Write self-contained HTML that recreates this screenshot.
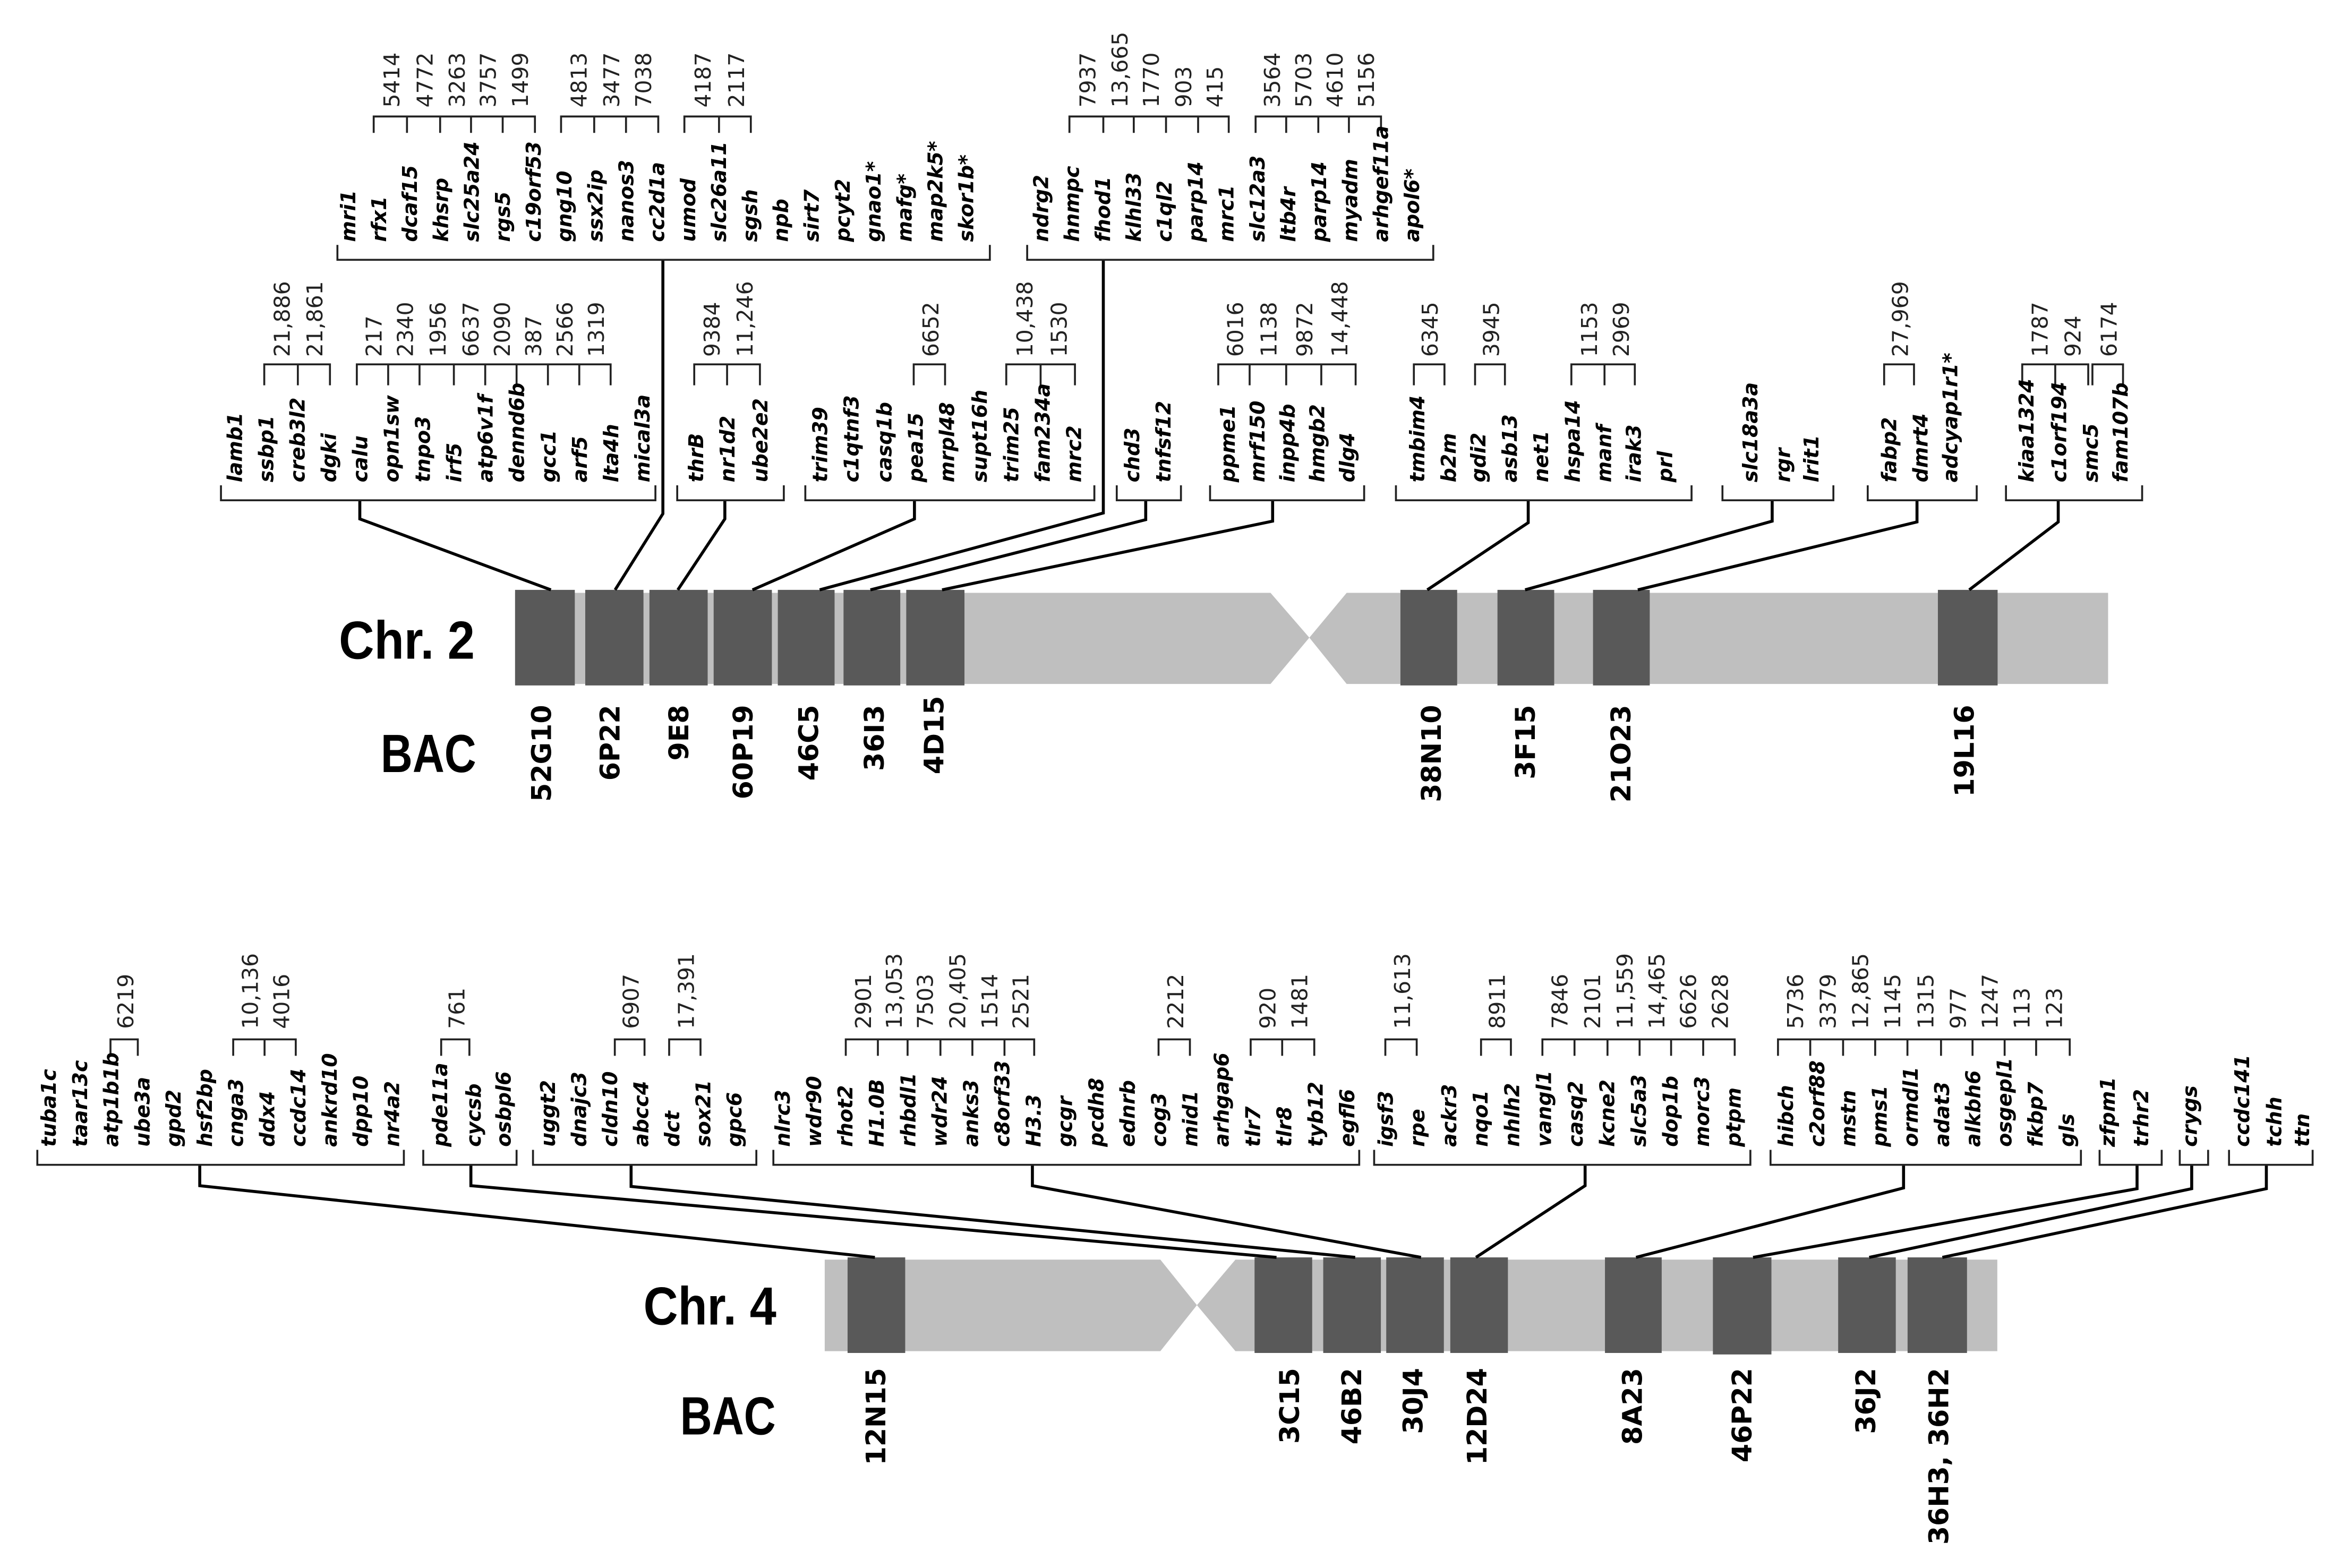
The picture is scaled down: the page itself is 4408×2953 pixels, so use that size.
<!DOCTYPE html>
<html><head><meta charset="utf-8">
<style>
html,body{margin:0;padding:0;background:#fff;}
svg{display:block;}
.g{font-family:"DejaVu Sans","Liberation Sans",sans-serif;font-style:italic;font-weight:bold;font-size:13.5px;fill:#000;}
.n{font-family:"DejaVu Sans","Liberation Sans",sans-serif;font-size:14.5px;fill:#222;}
.b{font-family:"DejaVu Sans","Liberation Sans",sans-serif;font-weight:bold;font-size:18px;fill:#000;text-anchor:end;}
.t{font-family:"Liberation Sans",sans-serif;font-weight:bold;font-size:36px;fill:#000;}
.br{fill:none;stroke:#222;stroke-width:1.3;}
.c{fill:none;stroke:#000;stroke-width:2;}
</style></head>
<body>
<svg width="4408" height="2953" viewBox="0 0 1568 1050" preserveAspectRatio="none">
<!-- ===== CHR 2 ===== -->
<path d="M345,397 H851 L877,427 L851,458 H345 Z M902,397 H1412 V458 H902 L877,427 Z" fill="#bfbfbf"/>
<g fill="#595959">
<rect x="345" y="395" width="40" height="64"/><rect x="392" y="395" width="39" height="64"/>
<rect x="435" y="395" width="39" height="64"/><rect x="478" y="395" width="39" height="64"/>
<rect x="521" y="395" width="38" height="64"/><rect x="565" y="395" width="38" height="64"/>
<rect x="607" y="395" width="39" height="64"/><rect x="938" y="395" width="38" height="64"/>
<rect x="1003" y="395" width="38" height="64"/><rect x="1067" y="395" width="38" height="64"/>
<rect x="1298" y="395" width="40" height="64"/>
</g>
<text class="t" x="227" y="441" textLength="91" lengthAdjust="spacingAndGlyphs">Chr. 2</text>
<text class="t" x="255" y="517" textLength="64" lengthAdjust="spacingAndGlyphs">BAC</text>
<text class="b" transform="translate(369,472) rotate(-90)">52G10</text>
<text class="b" transform="translate(415,472) rotate(-90)">6P22</text>
<text class="b" transform="translate(461,472) rotate(-90)">9E8</text>
<text class="b" transform="translate(504,472) rotate(-90)">60P19</text>
<text class="b" transform="translate(548,472) rotate(-90)">46C5</text>
<text class="b" transform="translate(592,472) rotate(-90)">36I3</text>
<text class="b" transform="translate(632,466) rotate(-90)">4D15</text>
<text class="b" transform="translate(965,472) rotate(-90)">38N10</text>
<text class="b" transform="translate(1028,472) rotate(-90)">3F15</text>
<text class="b" transform="translate(1092,472) rotate(-90)">21O23</text>
<text class="b" transform="translate(1322,472) rotate(-90)">19L16</text>

<path class="c" d="M241,335 V347.5 L369,395"/>
<path class="c" d="M444,174 V344 L412,395"/>
<path class="c" d="M485.5,335 V347.5 L454,395"/>
<path class="c" d="M612.5,335 V347.5 L504,395"/>
<path class="c" d="M739,174 V343.5 L549,395"/>
<path class="c" d="M767.4,335 V348 L583,395"/>
<path class="c" d="M852.4,335 V349 L631,395"/>
<path class="c" d="M1023.6,335 V350 L956,395"/>
<path class="c" d="M1187,335 V349 L1021.5,395"/>
<path class="c" d="M1284,335 V349.5 L1097,395"/>
<path class="c" d="M1378.6,335 V349.5 L1319,395"/>

<g class="br">
<path d="M148,325 V335 H439 V325"/>
<path d="M453.6,325 V335 H525 V325"/>
<path d="M539.4,325 V335 H733 V325"/>
<path d="M748,325 V335 H791 V325"/>
<path d="M810.5,325 V335 H913.7 V325"/>
<path d="M935,325 V335 H1133 V325"/>
<path d="M1153.7,325 V335 H1228 V325"/>
<path d="M1251,325 V335 H1324 V325"/>
<path d="M1343.6,325 V335 H1434.8 V325"/>
<path d="M177,258 V244 H199.5 V258 M199.5,244 H221 V258"/>
<path d="M239,258 V244 H409 V258 M260,244 V258 M281,244 V258 M304,244 V258 M325,244 V258 M346,244 V258 M367,244 V258 M388,244 V258"/>
<path d="M465,258 V244 H509 V258 M487,244 V258"/>
<path d="M612,258 V244 H633 V258"/>
<path d="M674,258 V244 H720 V258 M697,244 V258"/>
<path d="M816,258 V244 H908 V258 M837,244 V258 M861.5,244 V258 M885,244 V258"/>
<path d="M947,258 V244 H967.5 V258"/>
<path d="M988,258 V244 H1008 V258"/>
<path d="M1052.5,258 V244 H1095 V258 M1074.7,244 V258"/>
<path d="M1262,258 V244 H1282 V258"/>
<path d="M1354.5,258 V244 H1398.7 V258 M1376.6,244 V258 M1401.5,258 V244 H1422 V258"/>
<path d="M226,164 V174 H663 V164"/>
<path d="M688,164 V174 H960 V164"/>
<path d="M250.3,89 V78 H358.3 V89 M272.6,78 V89 M294.8,78 V89 M315.5,78 V89 M336.7,78 V89"/>
<path d="M375.8,89 V78 H440.9 V89 M398,78 V89 M419.3,78 V89"/>
<path d="M458.4,89 V78 H502.9 V89 M481.6,78 V89"/>
<path d="M716.3,89 V78 H823 V89 M739,78 V89 M759.4,78 V89 M781,78 V89 M802.5,78 V89"/>
<path d="M841,89 V78 H925 V89 M861.5,78 V89 M883,78 V89 M903.5,78 V89"/>
</g>

<g class="g">
<text transform="translate(162,323) rotate(-90)">lamb1</text>
<text transform="translate(183,323) rotate(-90)">ssbp1</text>
<text transform="translate(204,323) rotate(-90)">creb3l2</text>
<text transform="translate(225,323) rotate(-90)">dgki</text>
<text transform="translate(246,323) rotate(-90)">calu</text>
<text transform="translate(267,323) rotate(-90)">opn1sw</text>
<text transform="translate(288,323) rotate(-90)">tnpo3</text>
<text transform="translate(309,323) rotate(-90)">irf5</text>
<text transform="translate(330,323) rotate(-90)">atp6v1f</text>
<text transform="translate(351,323) rotate(-90)">dennd6b</text>
<text transform="translate(372,323) rotate(-90)">gcc1</text>
<text transform="translate(393,323) rotate(-90)">arf5</text>
<text transform="translate(414,323) rotate(-90)">lta4h</text>
<text transform="translate(435,323) rotate(-90)">mical3a</text>
<text transform="translate(471,323) rotate(-90)">thrB</text>
<text transform="translate(492,323) rotate(-90)">nr1d2</text>
<text transform="translate(514,323) rotate(-90)">ube2e2</text>
<text transform="translate(554,323) rotate(-90)">trim39</text>
<text transform="translate(575,323) rotate(-90)">c1qtnf3</text>
<text transform="translate(597,323) rotate(-90)">casq1b</text>
<text transform="translate(618,323) rotate(-90)">pea15</text>
<text transform="translate(639,323) rotate(-90)">mrpl48</text>
<text transform="translate(661,323) rotate(-90)">supt16h</text>
<text transform="translate(682,323) rotate(-90)">trim25</text>
<text transform="translate(703,323) rotate(-90)">fam234a</text>
<text transform="translate(724,323) rotate(-90)">mrc2</text>
<text transform="translate(763,323) rotate(-90)">chd3</text>
<text transform="translate(784,323) rotate(-90)">tnfsf12</text>
<text transform="translate(827,323) rotate(-90)">ppme1</text>
<text transform="translate(847,323) rotate(-90)">mrf150</text>
<text transform="translate(867,323) rotate(-90)">inpp4b</text>
<text transform="translate(887,323) rotate(-90)">hmgb2</text>
<text transform="translate(907,323) rotate(-90)">dlg4</text>
<text transform="translate(954,323) rotate(-90)">tmbim4</text>
<text transform="translate(975,323) rotate(-90)">b2m</text>
<text transform="translate(995,323) rotate(-90)">gdi2</text>
<text transform="translate(1016,323) rotate(-90)">asb13</text>
<text transform="translate(1037,323) rotate(-90)">net1</text>
<text transform="translate(1058,323) rotate(-90)">hspa14</text>
<text transform="translate(1079,323) rotate(-90)">manf</text>
<text transform="translate(1099,323) rotate(-90)">irak3</text>
<text transform="translate(1120,323) rotate(-90)">prl</text>
<text transform="translate(1177,323) rotate(-90)">slc18a3a</text>
<text transform="translate(1199,323) rotate(-90)">rgr</text>
<text transform="translate(1218,323) rotate(-90)">lrit1</text>
<text transform="translate(1270,323) rotate(-90)">fabp2</text>
<text transform="translate(1291,323) rotate(-90)">dmrt4</text>
<text transform="translate(1311,323) rotate(-90)">adcyap1r1*</text>
<text transform="translate(1362,323) rotate(-90)">kiaa1324</text>
<text transform="translate(1384,323) rotate(-90)">c1orf194</text>
<text transform="translate(1405,323) rotate(-90)">smc5</text>
<text transform="translate(1425,323) rotate(-90)">fam107b</text>
<text transform="translate(237.9,162) rotate(-90)">mri1</text>
<text transform="translate(258.6,162) rotate(-90)">rfx1</text>
<text transform="translate(279.3,162) rotate(-90)">dcaf15</text>
<text transform="translate(300,162) rotate(-90)">khsrp</text>
<text transform="translate(320.7,162) rotate(-90)">slc25a24</text>
<text transform="translate(341.4,162) rotate(-90)">rgs5</text>
<text transform="translate(362.1,162) rotate(-90)">c19orf53</text>
<text transform="translate(382.8,162) rotate(-90)">gng10</text>
<text transform="translate(403.5,162) rotate(-90)">ssx2ip</text>
<text transform="translate(424.2,162) rotate(-90)">nanos3</text>
<text transform="translate(444.9,162) rotate(-90)">cc2d1a</text>
<text transform="translate(465.6,162) rotate(-90)">umod</text>
<text transform="translate(486.3,162) rotate(-90)">slc26a11</text>
<text transform="translate(507,162) rotate(-90)">sgsh</text>
<text transform="translate(527.7,162) rotate(-90)">npb</text>
<text transform="translate(548.4,162) rotate(-90)">sirt7</text>
<text transform="translate(569.1,162) rotate(-90)">pcyt2</text>
<text transform="translate(589.8,162) rotate(-90)">gnao1*</text>
<text transform="translate(610.5,162) rotate(-90)">mafg*</text>
<text transform="translate(631.2,162) rotate(-90)">map2k5*</text>
<text transform="translate(651.9,162) rotate(-90)">skor1b*</text>
<text transform="translate(702,162) rotate(-90)">ndrg2</text>
<text transform="translate(722.7,162) rotate(-90)">hnmpc</text>
<text transform="translate(743.4,162) rotate(-90)">fhod1</text>
<text transform="translate(764.1,162) rotate(-90)">klhl33</text>
<text transform="translate(784.8,162) rotate(-90)">c1ql2</text>
<text transform="translate(805.5,162) rotate(-90)">parp14</text>
<text transform="translate(826.2,162) rotate(-90)">mrc1</text>
<text transform="translate(846.9,162) rotate(-90)">slc12a3</text>
<text transform="translate(867.6,162) rotate(-90)">ltb4r</text>
<text transform="translate(888.3,162) rotate(-90)">parp14</text>
<text transform="translate(909,162) rotate(-90)">myadm</text>
<text transform="translate(929.7,162) rotate(-90)">arhgef11a</text>
<text transform="translate(950.4,162) rotate(-90)">apol6*</text>
</g>

<g class="n">
<text transform="translate(194,239) rotate(-90)">21,886</text>
<text transform="translate(216,239) rotate(-90)">21,861</text>
<text transform="translate(255.5,239) rotate(-90)">217</text>
<text transform="translate(276.5,239) rotate(-90)">2340</text>
<text transform="translate(298.5,239) rotate(-90)">1956</text>
<text transform="translate(320.5,239) rotate(-90)">6637</text>
<text transform="translate(341.5,239) rotate(-90)">2090</text>
<text transform="translate(362.5,239) rotate(-90)">387</text>
<text transform="translate(383.5,239) rotate(-90)">2566</text>
<text transform="translate(404.5,239) rotate(-90)">1319</text>
<text transform="translate(482,239) rotate(-90)">9384</text>
<text transform="translate(504,239) rotate(-90)">11,246</text>
<text transform="translate(628.5,239) rotate(-90)">6652</text>
<text transform="translate(691.5,239) rotate(-90)">10,438</text>
<text transform="translate(714.5,239) rotate(-90)">1530</text>
<text transform="translate(832.5,239) rotate(-90)">6016</text>
<text transform="translate(855,239) rotate(-90)">1138</text>
<text transform="translate(879,239) rotate(-90)">9872</text>
<text transform="translate(902.5,239) rotate(-90)">14,448</text>
<text transform="translate(963,239) rotate(-90)">6345</text>
<text transform="translate(1004,239) rotate(-90)">3945</text>
<text transform="translate(1069.6,239) rotate(-90)">1153</text>
<text transform="translate(1091,239) rotate(-90)">2969</text>
<text transform="translate(1278,239) rotate(-90)">27,969</text>
<text transform="translate(1371.5,239) rotate(-90)">1787</text>
<text transform="translate(1393.6,239) rotate(-90)">924</text>
<text transform="translate(1417.7,239) rotate(-90)">6174</text>
<text transform="translate(267.5,72) rotate(-90)">5414</text>
<text transform="translate(289.7,72) rotate(-90)">4772</text>
<text transform="translate(311.2,72) rotate(-90)">3263</text>
<text transform="translate(332.1,72) rotate(-90)">3757</text>
<text transform="translate(353.5,72) rotate(-90)">1499</text>
<text transform="translate(392.9,72) rotate(-90)">4813</text>
<text transform="translate(414.7,72) rotate(-90)">3477</text>
<text transform="translate(436.1,72) rotate(-90)">7038</text>
<text transform="translate(475.9,72) rotate(-90)">4187</text>
<text transform="translate(498.3,72) rotate(-90)">2117</text>
<text transform="translate(733.7,72) rotate(-90)">7937</text>
<text transform="translate(755.2,72) rotate(-90)">13,665</text>
<text transform="translate(776.2,72) rotate(-90)">1770</text>
<text transform="translate(797.8,72) rotate(-90)">903</text>
<text transform="translate(818.8,72) rotate(-90)">415</text>
<text transform="translate(857.3,72) rotate(-90)">3564</text>
<text transform="translate(878.3,72) rotate(-90)">5703</text>
<text transform="translate(899.3,72) rotate(-90)">4610</text>
<text transform="translate(920.3,72) rotate(-90)">5156</text>
</g>

<!-- ===== CHR 4 ===== -->
<path d="M552.4,843.5 H777.2 L801.7,874 L777.2,904.8 H552.4 Z M827.5,843.5 H1337.8 V904.8 H827.5 L801.7,874 Z" fill="#bfbfbf"/>
<g fill="#595959">
<rect x="567.7" y="842" width="38.6" height="64"/>
<rect x="840.3" y="842" width="38.6" height="64"/>
<rect x="886.3" y="842" width="38.6" height="64"/>
<rect x="928.5" y="842" width="38.6" height="64"/>
<rect x="971.4" y="842" width="38.6" height="64"/>
<rect x="1075" y="842" width="38" height="64"/>
<rect x="1147.3" y="842" width="39.2" height="65"/>
<rect x="1231.2" y="842" width="38.6" height="64"/>
<rect x="1277.7" y="842" width="39.8" height="64"/>
</g>
<text class="t" x="431" y="887" textLength="89" lengthAdjust="spacingAndGlyphs">Chr. 4</text>
<text class="t" x="455.6" y="960.6" textLength="64" lengthAdjust="spacingAndGlyphs">BAC</text>
<text class="b" transform="translate(593,916) rotate(-90)">12N15</text>
<text class="b" transform="translate(870,916) rotate(-90)">3C15</text>
<text class="b" transform="translate(911.7,916) rotate(-90)">46B2</text>
<text class="b" transform="translate(952.7,916) rotate(-90)">30J4</text>
<text class="b" transform="translate(995.6,916) rotate(-90)">12D24</text>
<text class="b" transform="translate(1099.7,916) rotate(-90)">8A23</text>
<text class="b" transform="translate(1173.2,916) rotate(-90)">46P22</text>
<text class="b" transform="translate(1256,916) rotate(-90)">36J2</text>
<text class="b" transform="translate(1305,916) rotate(-90)">36H3, 36H2</text>

<path class="c" d="M133.8,780 V794 L586,842"/>
<path class="c" d="M315.4,780 V794 L855,842"/>
<path class="c" d="M422.7,780 V794.5 L907.7,842"/>
<path class="c" d="M691.5,780 V794 L951.8,842"/>
<path class="c" d="M1061.7,780 V794 L988.6,842"/>
<path class="c" d="M1275,780 V795.5 L1095.8,842"/>
<path class="c" d="M1431.4,780 V796 L1174.2,842"/>
<path class="c" d="M1468,780 V796 L1252,842"/>
<path class="c" d="M1518,780 V796 L1301,842"/>

<g class="br">
<path d="M25,770 V780 H270.5 V770"/>
<path d="M283.5,770 V780 H346 V770"/>
<path d="M357,770 V780 H506.6 V770"/>
<path d="M518,770 V780 H910.4 V770"/>
<path d="M920.4,770 V780 H1172.4 V770"/>
<path d="M1185.9,770 V780 H1393.8 V770"/>
<path d="M1406.3,770 V780 H1447.9 V770"/>
<path d="M1460,770 V780 H1479 V770"/>
<path d="M1493,770 V780 H1549 V770"/>
<path d="M74,707 V696 H92.3 V707"/>
<path d="M156.2,707 V696 H198.1 V707 M177.2,696 V707"/>
<path d="M295.5,707 V696 H314.4 V707"/>
<path d="M411.8,707 V696 H431.7 V707"/>
<path d="M448.2,707 V696 H469.2 V707"/>
<path d="M566.5,707 V696 H692.7 V707 M588,696 V707 M607.9,696 V707 M629.9,696 V707 M651.3,696 V707 M672.8,696 V707"/>
<path d="M776,707 V696 H797 V707"/>
<path d="M837.7,707 V696 H880.3 V707 M858.8,696 V707"/>
<path d="M927.9,707 V696 H948.9 V707"/>
<path d="M992,707 V696 H1012 V707"/>
<path d="M1033.1,707 V696 H1161.9 V707 M1054.6,696 V707 M1076.7,696 V707 M1098.2,696 V707 M1119.3,696 V707 M1140.8,696 V707"/>
<path d="M1190.9,707 V696 H1386.3 V707 M1212.5,696 V707 M1234.5,696 V707 M1256,696 V707 M1277.6,696 V707 M1300.1,696 V707 M1321.2,696 V707 M1342.7,696 V707 M1363.8,696 V707"/>
</g>

<g class="g">
<text transform="translate(37.4,768) rotate(-90)">tuba1c</text>
<text transform="translate(58.3,768) rotate(-90)">taar13c</text>
<text transform="translate(79.2,768) rotate(-90)">atp1b1b</text>
<text transform="translate(100.1,768) rotate(-90)">ube3a</text>
<text transform="translate(121,768) rotate(-90)">gpd2</text>
<text transform="translate(141.9,768) rotate(-90)">hsf2bp</text>
<text transform="translate(162.8,768) rotate(-90)">cnga3</text>
<text transform="translate(183.7,768) rotate(-90)">ddx4</text>
<text transform="translate(204.6,768) rotate(-90)">ccdc14</text>
<text transform="translate(225.5,768) rotate(-90)">ankrd10</text>
<text transform="translate(246.4,768) rotate(-90)">dpp10</text>
<text transform="translate(267.3,768) rotate(-90)">nr4a2</text>
<text transform="translate(299.5,768) rotate(-90)">pde11a</text>
<text transform="translate(322,768) rotate(-90)">cycsb</text>
<text transform="translate(342,768) rotate(-90)">osbpl6</text>
<text transform="translate(371.8,768) rotate(-90)">uggt2</text>
<text transform="translate(392.6,768) rotate(-90)">dnajc3</text>
<text transform="translate(413.4,768) rotate(-90)">cldn10</text>
<text transform="translate(434.2,768) rotate(-90)">abcc4</text>
<text transform="translate(455,768) rotate(-90)">dct</text>
<text transform="translate(475.8,768) rotate(-90)">sox21</text>
<text transform="translate(496.6,768) rotate(-90)">gpc6</text>
<text transform="translate(529,768) rotate(-90)">nlrc3</text>
<text transform="translate(550,768) rotate(-90)">wdr90</text>
<text transform="translate(571,768) rotate(-90)">rhot2</text>
<text transform="translate(592,768) rotate(-90)">H1.0B</text>
<text transform="translate(613,768) rotate(-90)">rhbdl1</text>
<text transform="translate(634,768) rotate(-90)">wdr24</text>
<text transform="translate(655,768) rotate(-90)">anks3</text>
<text transform="translate(676,768) rotate(-90)">c8orf33</text>
<text transform="translate(697,768) rotate(-90)">H3.3</text>
<text transform="translate(718,768) rotate(-90)">gcgr</text>
<text transform="translate(739,768) rotate(-90)">pcdh8</text>
<text transform="translate(760,768) rotate(-90)">ednrb</text>
<text transform="translate(781,768) rotate(-90)">cog3</text>
<text transform="translate(802,768) rotate(-90)">mid1</text>
<text transform="translate(823,768) rotate(-90)">arhgap6</text>
<text transform="translate(844,768) rotate(-90)">tlr7</text>
<text transform="translate(865,768) rotate(-90)">tlr8</text>
<text transform="translate(886,768) rotate(-90)">tyb12</text>
<text transform="translate(907,768) rotate(-90)">egfl6</text>
<text transform="translate(932.9,768) rotate(-90)">igsf3</text>
<text transform="translate(954.1,768) rotate(-90)">rpe</text>
<text transform="translate(975.3,768) rotate(-90)">ackr3</text>
<text transform="translate(996.4,768) rotate(-90)">nqo1</text>
<text transform="translate(1017.6,768) rotate(-90)">nhlh2</text>
<text transform="translate(1038.8,768) rotate(-90)">vangl1</text>
<text transform="translate(1060,768) rotate(-90)">casq2</text>
<text transform="translate(1081.2,768) rotate(-90)">kcne2</text>
<text transform="translate(1102.3,768) rotate(-90)">slc5a3</text>
<text transform="translate(1123.5,768) rotate(-90)">dop1b</text>
<text transform="translate(1144.7,768) rotate(-90)">morc3</text>
<text transform="translate(1165.9,768) rotate(-90)">ptpm</text>
<text transform="translate(1200.9,768) rotate(-90)">hibch</text>
<text transform="translate(1221.8,768) rotate(-90)">c2orf88</text>
<text transform="translate(1242.7,768) rotate(-90)">mstn</text>
<text transform="translate(1263.6,768) rotate(-90)">pms1</text>
<text transform="translate(1284.5,768) rotate(-90)">ormdl1</text>
<text transform="translate(1305.4,768) rotate(-90)">adat3</text>
<text transform="translate(1326.3,768) rotate(-90)">alkbh6</text>
<text transform="translate(1347.2,768) rotate(-90)">osgepl1</text>
<text transform="translate(1368.1,768) rotate(-90)">fkbp7</text>
<text transform="translate(1389,768) rotate(-90)">gls</text>
<text transform="translate(1416.4,768) rotate(-90)">zfpm1</text>
<text transform="translate(1438.9,768) rotate(-90)">trhr2</text>
<text transform="translate(1471.5,768) rotate(-90)">crygs</text>
<text transform="translate(1506.5,768) rotate(-90)">ccdc141</text>
<text transform="translate(1528,768) rotate(-90)">tchh</text>
<text transform="translate(1546.6,768) rotate(-90)">ttn</text>
</g>

<g class="n">
<text transform="translate(89.2,689) rotate(-90)">6219</text>
<text transform="translate(172.7,689) rotate(-90)">10,136</text>
<text transform="translate(193.7,689) rotate(-90)">4016</text>
<text transform="translate(311,689) rotate(-90)">761</text>
<text transform="translate(427.8,689) rotate(-90)">6907</text>
<text transform="translate(464.7,689) rotate(-90)">17,391</text>
<text transform="translate(583.3,689) rotate(-90)">2901</text>
<text transform="translate(604,689) rotate(-90)">13,053</text>
<text transform="translate(624.9,689) rotate(-90)">7503</text>
<text transform="translate(646.6,689) rotate(-90)">20,405</text>
<text transform="translate(668,689) rotate(-90)">1514</text>
<text transform="translate(688.8,689) rotate(-90)">2521</text>
<text transform="translate(792.5,689) rotate(-90)">2212</text>
<text transform="translate(854.3,689) rotate(-90)">920</text>
<text transform="translate(875.6,689) rotate(-90)">1481</text>
<text transform="translate(944.4,689) rotate(-90)">11,613</text>
<text transform="translate(1008,689) rotate(-90)">8911</text>
<text transform="translate(1049.9,689) rotate(-90)">7846</text>
<text transform="translate(1071.7,689) rotate(-90)">2101</text>
<text transform="translate(1093.5,689) rotate(-90)">11,559</text>
<text transform="translate(1114.8,689) rotate(-90)">14,465</text>
<text transform="translate(1136,689) rotate(-90)">6626</text>
<text transform="translate(1157.4,689) rotate(-90)">2628</text>
<text transform="translate(1207.7,689) rotate(-90)">5736</text>
<text transform="translate(1229.5,689) rotate(-90)">3379</text>
<text transform="translate(1251.3,689) rotate(-90)">12,865</text>
<text transform="translate(1272.8,689) rotate(-90)">1145</text>
<text transform="translate(1294.9,689) rotate(-90)">1315</text>
<text transform="translate(1316.7,689) rotate(-90)">977</text>
<text transform="translate(1338,689) rotate(-90)">1247</text>
<text transform="translate(1359.3,689) rotate(-90)">113</text>
<text transform="translate(1381,689) rotate(-90)">123</text>
</g>
</svg>
</body></html>
